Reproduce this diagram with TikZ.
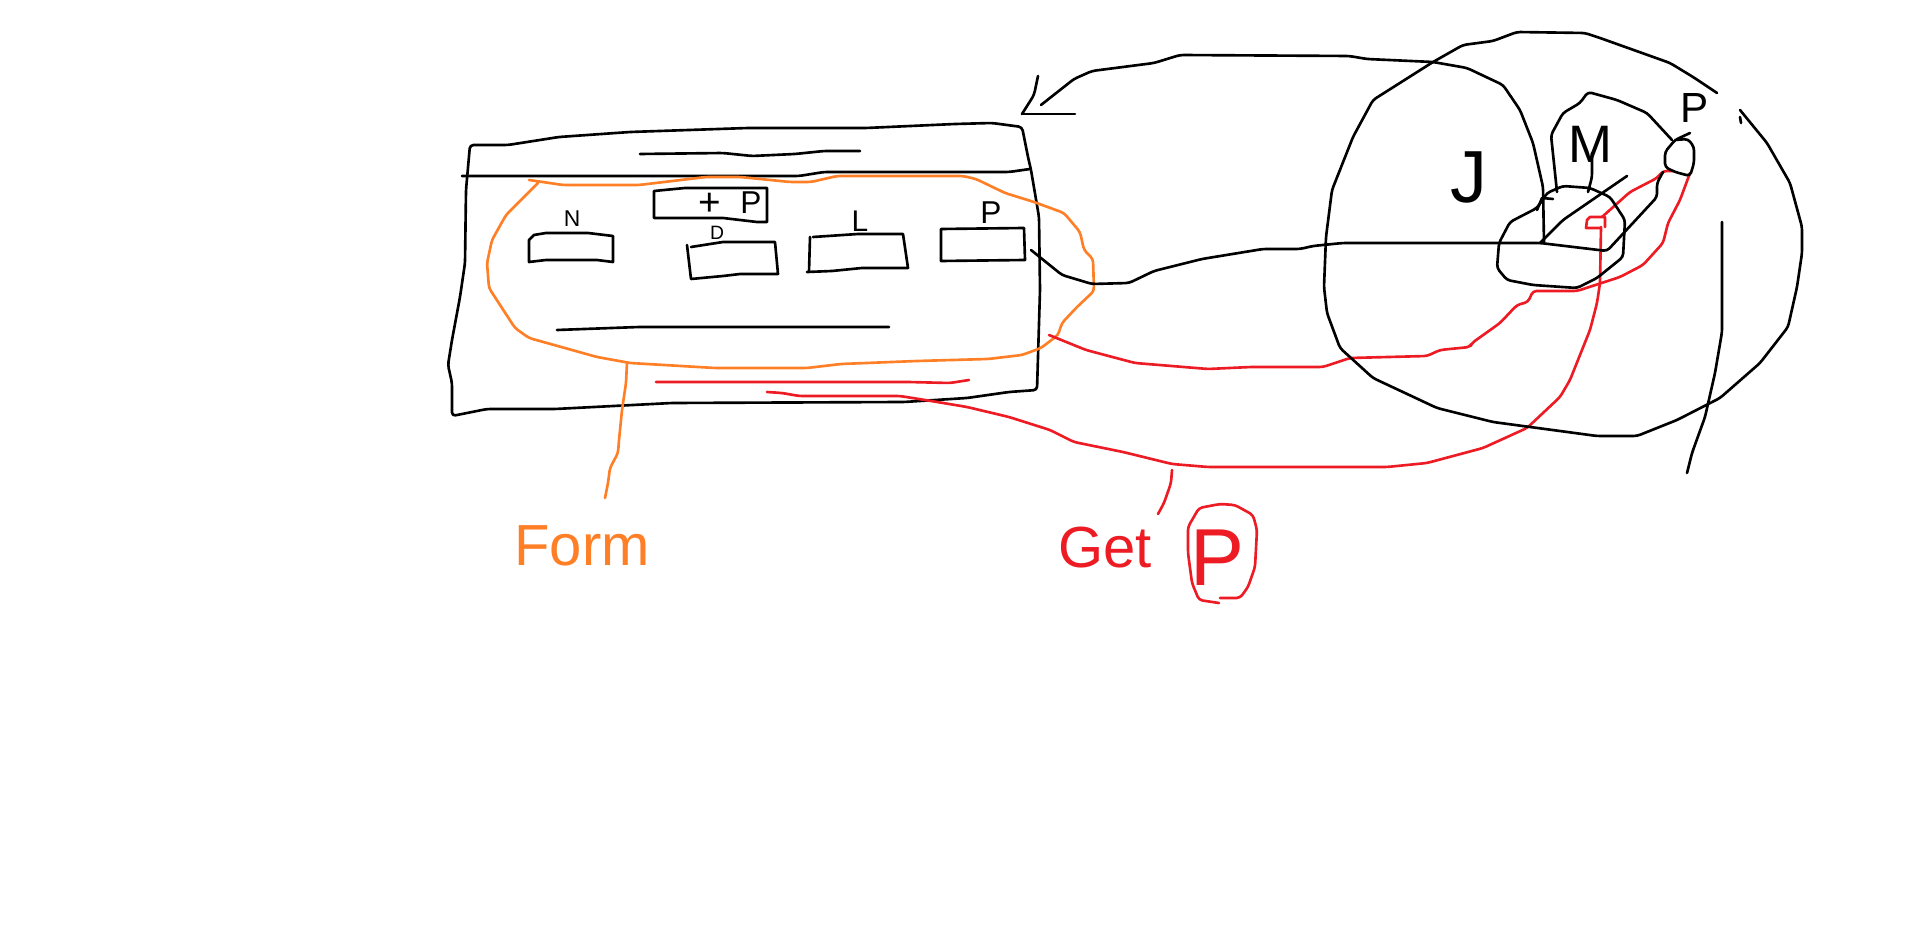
\documentclass[tikz,border=0pt]{standalone}
\usepackage{xcolor}
\usepackage{fontspec}
\setmainfont{Liberation Sans}
\usepackage{tikz}
\definecolor{penorange}{HTML}{FF7F27}
\definecolor{penred}{HTML}{ED1C24}
\tikzset{
  pen/.style={line width=1.5pt,line join=round,line cap=round,rounded corners=2pt},
  sharppen/.style={line width=1.5pt,line join=round,line cap=round},
  blacklabel/.style={inner sep=0pt,text=black},
  orangelabel/.style={inner sep=0pt,text=penorange},
  redlabel/.style={inner sep=0pt,text=penred}
}
\newcommand{\pensize}[1]{\fontsize{#1}{#1}\selectfont}
\begin{document}
\begin{tikzpicture}[x=0.02cm,y=-0.02cm]
            \useasboundingbox (0,0) rectangle (1914,935);

            % page
            \draw[pen] (470,145) -- (508,145) -- (559,137) -- (630,132) -- (748,128) -- (866,128) -- (955,124) -- (992,123) -- (1022,127) -- (1028,157) -- (1031,170) -- (1039,217) -- (1040,290) -- (1037,390) -- (1009,392) -- (967,398) -- (904,402) -- (672,403) -- (555,409) -- (487,409) -- (452,416) -- (452,383) -- (448,365) -- (452,340) -- (460,297) -- (465,263) -- (466,190) -- cycle;
            \draw[pen] (462,176) -- (651,176) -- (799,176) -- (824,172) -- (1009,172) -- (1030,169);
            \draw[pen] (640,154) -- (723,153) -- (752,156) -- (795,154) -- (824,151) -- (860,151);
            \draw[pen] (557,330) -- (639,327) -- (889,327);

            % inputs
            \draw[sharppen] (529,240) -- (534,235) -- (546,233) -- (588,233) -- (613,236) -- (613,262) -- (597,260) -- (546,260) -- (529,262) -- cycle;
            \draw[sharppen] (654,191) -- (685,188) -- (767,188) -- (767,222) -- (757,222) -- (723,218) -- (654,218) -- cycle;
            \draw[sharppen] (691,247) -- (723,242) -- (775,242) -- (778,274) -- (740,274) -- (723,276) -- (691,279) -- (687,245);
            \draw[sharppen] (813,237) -- (858,234) -- (903,234) -- (908,268) -- (862,268) -- (832,271) -- (807,272);
            \draw[sharppen] (810,237) -- (809,272);
            \draw[sharppen] (941,229) -- (1024,228) -- (1025,260) -- (941,261) -- cycle;

            \node[blacklabel] (nlabel) at (572,219) {\pensize{13}N};
            \node[blacklabel] (dlabel) at (717,233) {\pensize{11}D};
            \node[blacklabel] (llabel) at (860,221) {\pensize{17}L};
            \node[blacklabel] (plabel) at (991,213) {\pensize{18}P};
            \node[blacklabel] (pluslabel) at (710,204) {\pensize{22}+};
            \node[blacklabel] (addplabel) at (751,203) {\pensize{18}P};

            % form
            \draw[pen,penorange] (529,180) -- (563,185) -- (639,185) -- (706,177) -- (740,177) -- (790,182) -- (811,182) -- (837,176) -- (963,176) -- (976,179) -- (1005,193) -- (1034,202) -- (1064,213) -- (1080,232) -- (1084,250) -- (1093,259) -- (1094,291) -- (1077,307) -- (1062,323) -- (1058,335) -- (1041,348) -- (1022,355) -- (988,359) -- (917,361) -- (841,364) -- (807,368) -- (715,368) -- (630,363) -- (597,357) -- (529,338) -- (515,328) -- (489,288) -- (487,263) -- (492,240) -- (506,215) -- (538,183);
            \draw[pen,penorange] (627,363) -- (626,383) -- (622,410) -- (619,440) -- (618,453) -- (610,468) -- (608,483) -- (605,498);
            \node[orangelabel] (formlabel) at (582,546) {\pensize{33}Form};

            % get
            \draw[pen,penred] (656,382) -- (908,382) -- (950,383) -- (969,380);
            \draw[pen,penred] (767,392) -- (782,393) -- (799,396) -- (900,396) -- (925,400) -- (967,407) -- (1009,417) -- (1050,430) -- (1074,442) -- (1123,452) -- (1172,464) -- (1208,467) -- (1387,467) -- (1427,463) -- (1483,448) -- (1527,428) -- (1560,397) -- (1570,380) -- (1590,330) -- (1597,303) -- (1600,283) -- (1601,227);
            \draw[sharppen,penred] (1600,228) -- (1586,228) -- (1587,220) -- (1590,217) -- (1605,217) -- (1605,227);
            \draw[pen,penred] (1602,217) -- (1630,192) -- (1657,178) -- (1663,171) -- (1673,171);
            \draw[pen,penred] (1049,335) -- (1086,350) -- (1135,363) -- (1208,369) -- (1251,367) -- (1323,367) -- (1350,358) -- (1427,356) -- (1440,350) -- (1470,347) -- (1472,343) -- (1500,323) -- (1517,305) -- (1528,302) -- (1533,291) -- (1577,291) -- (1620,277) -- (1643,265) -- (1663,243) -- (1668,223) -- (1680,200) -- (1690,173);
            \draw[pen,penred] (1172,470) -- (1171,483) -- (1164,503) -- (1158,514);
            \node[redlabel] (getlabel) at (1105,548) {\pensize{33}Get};
            \draw[pen,penred] (1219,603) -- (1199,600) -- (1192,583) -- (1188,553) -- (1188,527) -- (1199,508) -- (1220,504) -- (1235,505) -- (1253,515) -- (1257,530) -- (1255,567) -- (1248,587) -- (1240,598) -- (1220,598);
            \node[redlabel] (getplabel) at (1217,558) {\pensize{46}P};

            % link to the tree
            \draw[pen] (1031,250) -- (1062,275) -- (1092,284) -- (1129,283) -- (1154,271) -- (1202,259) -- (1263,249) -- (1300,249) -- (1313,246) -- (1343,243) -- (1540,243) -- (1607,251) -- (1657,197) -- (1657,183) -- (1663,172);
            \draw[pen] (1540,243) -- (1563,220) -- (1627,176);
            \draw[pen] (1022,114) -- (1034,95) -- (1038,76);
            \draw[sharppen] (1022,114) -- (1075,114);
            \draw[pen] (1041,105) -- (1074,79) -- (1092,71) -- (1154,63) -- (1180,55) -- (1349,56) -- (1367,59) -- (1433,62) -- (1467,68) -- (1503,85) -- (1520,110) -- (1533,143) -- (1543,187) -- (1544,243);

            % outer shape
            \draw[pen] (1717,93) -- (1693,77) -- (1670,63) -- (1600,38) -- (1585,33) -- (1517,32) -- (1493,41) -- (1463,45) -- (1433,62) -- (1373,100) -- (1353,137) -- (1332,190) -- (1326,237) -- (1324,287) -- (1327,313) -- (1340,348) -- (1373,378) -- (1437,408) -- (1493,422) -- (1597,436) -- (1637,436) -- (1677,420) -- (1720,398) -- (1760,363) -- (1788,327) -- (1797,287) -- (1802,253) -- (1802,227) -- (1790,183) -- (1767,143) -- (1740,110);
            \draw[sharppen] (1740,117) -- (1741,123);
            \draw[pen] (1722,222) -- (1722,332) -- (1715,373) -- (1705,417) -- (1692,453) -- (1687,473);

            % inner shapes
            \draw[pen] (1557,192) -- (1551,135) -- (1563,113) -- (1580,103) -- (1588,92) -- (1617,100) -- (1647,113) -- (1672,140);
            \draw[pen] (1592,153) -- (1592,177) -- (1588,192);
            \draw[pen] (1690,133) -- (1675,140) -- (1665,152) -- (1665,167) -- (1675,172) -- (1690,176) -- (1694,163) -- (1694,147) -- (1688,139) -- (1675,140);
            \draw[pen] (1537,208) -- (1547,193) -- (1563,186) -- (1590,188) -- (1610,197) -- (1625,220) -- (1623,257) -- (1597,278) -- (1577,288) -- (1533,285) -- (1507,280) -- (1497,268) -- (1499,243) -- (1510,222) -- cycle;
            \draw[sharppen] (1537,210) -- (1542,198) -- (1553,199);

            \node[blacklabel] (jlabel) at (1469,177) {\pensize{42}J};
            \node[blacklabel] (mlabel) at (1590,144) {\pensize{30}M};
            \node[blacklabel] (toplabel) at (1695,108) {\pensize{24}P};
          \end{tikzpicture}
\end{document}
